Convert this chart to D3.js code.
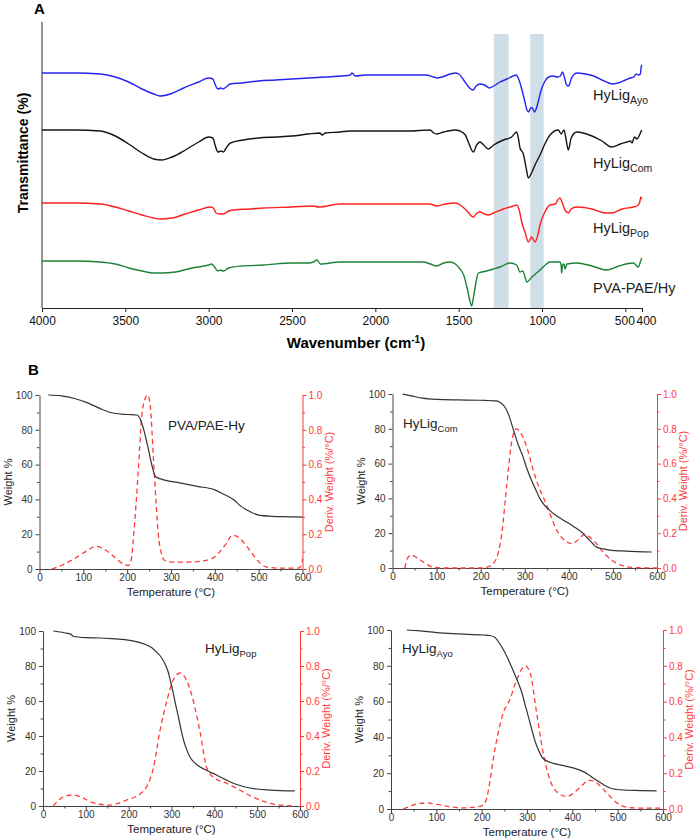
<!DOCTYPE html>
<html>
<head>
<meta charset="utf-8">
<script src="https://cdn.jsdelivr.net/npm/d3@7"></script>
<style>
  body { margin: 0; background: #fff; }
  text { font-family: "Liberation Sans", Arial, sans-serif; }
</style>
</head>
<body>
<div class="chart"></div>
<script>
const WIDTH = 700;
const HEIGHT = 840;

// ---------- panel A : FTIR (wavenumber, shift from each trace's own baseline)
const ftirTicks = [4000, 3500, 3000, 2500, 2000, 1500, 1000, 500, 400];
const ftirBands = [[1290, 1200], [1070, 990]];
const ftirOffsets = [235, 178, 105, 47];

const ayo = [[4000,0],[3800,0],[3650,-1],[3560,-4],[3480,-9],[3400,-16],[3330,-21],[3292,-23],[3230,-21],[3150,-15],[3060,-9],[3000,-5],[2975,-6],[2960,-12],[2945,-16],[2925,-15],[2914,-16],[2895,-14],[2870,-11],[2800,-10],[2700,-8],[2600,-7],[2500,-6],[2400,-5],[2300,-4],[2200,-3],[2150,-2],[2140,0],[2120,-3],[2060,-2],[2000,-2],[1800,-2],[1700,-2],[1650,-4],[1630,-5],[1600,-4],[1550,-1],[1520,0],[1500,-1],[1470,-7],[1440,-14],[1414,-17],[1395,-13],[1372,-11],[1345,-12],[1315,-15],[1290,-13],[1252,-9],[1210,-6],[1174,-3],[1155,-2],[1140,-6],[1125,-14],[1105,-27],[1090,-37],[1080,-39],[1068,-35],[1058,-35],[1045,-39],[1035,-36],[1020,-27],[1005,-17],[985,-9],[960,-4],[935,-3],[905,-4],[890,-3],[876,1],[866,-4],[852,-12],[840,-13],[825,-6],[805,-1],[790,0],[740,-1],[690,-3],[640,-7],[600,-10],[575,-11],[545,-10],[500,-7],[470,-5],[450,-4],[435,-1],[420,-2],[410,-1],[405,6],[400,8]];
const com = [[4000,0],[3800,0],[3650,-1],[3560,-6],[3480,-14],[3400,-23],[3330,-29],[3282,-30],[3220,-27],[3140,-20],[3060,-12],[3000,-7],[2975,-8],[2960,-16],[2945,-22],[2925,-21],[2912,-22],[2895,-18],[2870,-13],[2792,-10],[2700,-8],[2600,-7],[2500,-6],[2400,-4],[2332,-3],[2320,-5],[2300,-3],[2212,-2],[2150,-1],[2000,-1],[1800,-1],[1672,0],[1650,-3],[1632,-4],[1590,-2],[1522,0],[1492,-1],[1460,-5],[1442,-12],[1412,-22],[1392,-15],[1372,-12],[1350,-15],[1322,-19],[1290,-15],[1232,-10],[1182,-7],[1152,-2],[1140,-10],[1132,-18],[1112,-24],[1095,-38],[1082,-48],[1060,-42],[1042,-35],[1012,-25],[980,-13],[952,-5],[902,0],[885,-4],[868,0],[855,-10],[842,-20],[825,-8],[792,-2],[700,-6],[640,-11],[582,-17],[530,-14],[490,-12],[470,-11],[460,-13],[445,-7],[430,-9],[415,-5],[402,0]];
const pop = [[4000,0],[3800,0],[3650,-1],[3560,-4],[3480,-8],[3400,-12],[3330,-15],[3292,-16],[3220,-15],[3140,-11],[3060,-7],[2992,-4],[2972,-5],[2955,-10],[2935,-11],[2912,-11],[2880,-8],[2850,-7],[2750,-6],[2672,-5],[2500,-4],[2372,-3],[2340,-4],[2212,-1],[2000,-1],[1800,-1],[1672,-1],[1632,-3],[1580,-1],[1522,0],[1490,-2],[1450,-8],[1412,-14],[1390,-10],[1372,-9],[1345,-11],[1322,-12],[1290,-10],[1232,-6],[1172,-3],[1152,-2],[1135,-8],[1122,-19],[1100,-30],[1082,-39],[1062,-34],[1042,-39],[1025,-32],[1012,-22],[980,-8],[952,-2],[920,-1],[905,3],[892,5],[880,1],[865,-6],[842,-10],[825,-6],[792,-4],[700,-6],[620,-10],[582,-10],[520,-6],[452,-4],[430,-3],[415,0],[406,6],[402,4]];
const pvaPae = [[4000,0],[3800,0],[3650,-1],[3560,-3],[3480,-7],[3400,-10],[3330,-12],[3282,-12],[3200,-11],[3100,-7],[3000,-4],[2982,-3],[2965,-6],[2945,-10],[2930,-9],[2912,-10],[2880,-7],[2800,-5],[2672,-4],[2500,-2],[2400,-2],[2372,-1],[2350,1],[2330,-3],[2212,-1],[2000,-1],[1800,-1],[1712,-1],[1670,-3],[1632,-5],[1590,-2],[1552,-1],[1520,-3],[1492,-8],[1470,-14],[1452,-25],[1435,-38],[1422,-45],[1410,-35],[1400,-25],[1382,-12],[1360,-11],[1332,-10],[1290,-8],[1252,-6],[1192,-2],[1152,-4],[1132,-11],[1116,-10],[1100,-17],[1092,-21],[1060,-16],[1012,-9],[980,-4],[952,-1],[892,-1],[885,-5],[882,-12],[876,-4],[868,-3],[862,-8],[850,-3],[792,-2],[700,-5],[612,-9],[540,-5],[452,-2],[422,-6],[410,-1],[402,3]];

const ftirSeries = [ayo, com, pop, pvaPae];
const ftirColors = ['#2424f2', '#151515', '#ff1e1e', '#1e8236'];
const ftirNames = [['HyLig', 'Ayo'], ['HyLig', 'Com'], ['HyLig', 'Pop'], ['PVA-PAE/Hy', '']];

// ---------- panel B : TGA (temperature, weight %) and DTG (temperature, %/°C)
const tgaTicks = [0, 100, 200, 300, 400, 500, 600];
const weightTicks = [0, 20, 40, 60, 80, 100];
const derivTicks = [0, 0.2, 0.4, 0.6, 0.8, 1.0];

const pvaW = [[20,100],[50,99.5],[80,98],[110,95.5],[140,92],[170,89.5],[200,88.8],[222,88.5],[230,86],[240,78],[250,67],[258,58],[265,53],[280,51.5],[320,49.5],[360,47.5],[400,45.5],[420,43],[443,39.8],[460,36],[480,33],[500,31],[530,30.3],[570,30],[600,29.8]];
const pvaD = [[28,0],[50,0.02],[80,0.06],[105,0.1],[129,0.13],[150,0.11],[170,0.07],[190,0.03],[203,0.02],[209,0.05],[215,0.2],[225,0.55],[233,0.87],[241,0.98],[247,1.0],[253,0.93],[260,0.63],[266,0.38],[271,0.2],[278,0.09],[285,0.05],[300,0.04],[340,0.04],[380,0.05],[400,0.07],[415,0.11],[427,0.15],[440,0.195],[455,0.18],[473,0.13],[485,0.09],[497,0.05],[510,0.02],[520,0.01],[550,0.005],[590,0.005],[597,0.02],[600,0.06]];
const comW = [[23,100],[45,98.8],[68,97.6],[100,96.9],[150,96.6],[200,96.4],[236,96],[245,95],[255,92.5],[265,87],[273,80.5],[285,71],[296,64],[305,57],[315,50.6],[325,45],[334,40],[345,36],[357,33],[372,30],[387,27.6],[410,24],[432,20],[445,16.5],[455,13.8],[463,12],[478,11],[493,10.3],[530,9.7],[588,9.2]];
const comD = [[28,0],[33,0.05],[42,0.075],[55,0.06],[72,0.03],[92,0.005],[120,0],[200,0],[220,0.01],[230,0.03],[238,0.07],[248,0.2],[259,0.47],[270,0.72],[281,0.8],[292,0.77],[304,0.7],[315,0.6],[327,0.5],[350,0.36],[372,0.22],[395,0.15],[407,0.14],[420,0.16],[437,0.195],[450,0.17],[463,0.14],[475,0.1],[486,0.07],[500,0.04],[520,0.015],[545,0.003],[600,0]];
const popW = [[24,100],[50,99],[65,98.2],[70,97],[100,96.2],[133,96],[160,95.6],[195,94.9],[220,93.8],[242,92],[255,90.3],[265,88],[273,86],[281,83],[287,80],[293,76],[298,71],[304,64.6],[310,57.5],[316,51],[322,44],[328,37.7],[335,32.5],[343,28],[355,24.5],[367,22.3],[385,20],[405,17.7],[425,15.2],[444,13],[470,11],[499,9.7],[530,9.1],[588,8.6]];
const popD = [[24,0],[35,0.03],[50,0.055],[70,0.063],[90,0.05],[110,0.025],[133,0.01],[156,0.005],[175,0.015],[195,0.034],[227,0.07],[242,0.11],[258,0.22],[273,0.43],[289,0.6],[304,0.72],[320,0.76],[335,0.72],[351,0.6],[367,0.42],[382,0.22],[397,0.166],[429,0.13],[460,0.09],[491,0.05],[522,0.02],[553,0.005],[590,0]];
const ayoW = [[35,100],[60,99.6],[101,98.5],[152,97.8],[203,97.2],[220,96.8],[229,96],[238,93],[247,89.4],[258,84],[269,77.6],[279,71.5],[289,64.8],[296,58],[303,51.6],[311,44],[318,37.7],[326,32.5],[333,29],[345,26.7],[358,25.5],[375,24.5],[395,23.4],[410,22.3],[424,20.9],[435,19.3],[446,17.3],[465,14.2],[483,11.7],[498,10.9],[512,10.6],[550,10.3],[586,10.1]];
const ayoD = [[27,0],[45,0.018],[60,0.03],[79,0.034],[100,0.027],[131,0.012],[160,0.006],[185,0.01],[203,0.022],[210,0.05],[218,0.15],[225,0.27],[236,0.42],[248,0.54],[262,0.61],[277,0.72],[288,0.78],[296,0.8],[307,0.76],[321,0.54],[336,0.31],[351,0.16],[366,0.095],[388,0.07],[410,0.105],[425,0.14],[435,0.16],[445,0.158],[454,0.145],[476,0.09],[498,0.035],[527,0.007],[555,0.005],[600,0.005]];

const svg = d3.select('.chart').append('svg')
    .attr('width', WIDTH)
    .attr('height', HEIGHT);

// =============== panel A
const xA = d3.scaleLinear().domain([4000, 400]).range([42, 642]);
const yA = d3.scaleLinear().domain([0, 285]).range([308, 23]);

svg.append('text').attr('x', 34).attr('y', 14)
    .attr('font-size', 15).attr('font-weight', 'bold').text('A');

svg.selectAll('rect.band').data(ftirBands).enter().append('rect')
    .attr('class', 'band')
    .attr('x', d => xA(d[0]))
    .attr('width', d => xA(d[1]) - xA(d[0]))
    .attr('y', 34)
    .attr('height', 308 - 34)
    .attr('fill', '#d0dee8');

svg.append('line').attr('x1', 42).attr('x2', 42).attr('y1', 22).attr('y2', 308)
    .attr('stroke', '#222').attr('stroke-width', 1);

const xAxisA = svg.append('g').attr('transform', 'translate(0,308)')
    .call(d3.axisBottom(xA).tickValues(ftirTicks).tickSize(4).tickSizeOuter(0).tickPadding(4).tickFormat(d3.format('d')));
xAxisA.select('.domain').attr('stroke', '#222');
xAxisA.selectAll('line').attr('stroke', '#222');
xAxisA.selectAll('text').attr('font-size', 12).attr('fill', '#111');
// 500 and 400 sit close together: push them apart
xAxisA.selectAll('.tick text')
    .filter(d => d === 500).attr('text-anchor', 'end').attr('x', 9);
xAxisA.selectAll('.tick text')
    .filter(d => d === 400).attr('text-anchor', 'start').attr('x', -6);

svg.append('text').attr('x', 356).attr('y', 348).attr('text-anchor', 'middle')
    .attr('font-size', 15).attr('font-weight', 'bold')
    .call(t => {
        t.append('tspan').text('Wavenumber (cm');
        t.append('tspan').attr('font-size', 10).attr('dy', -5).text('-1');
        t.append('tspan').attr('dy', 5).text(')');
    });

svg.append('text').attr('transform', 'translate(28,153) rotate(-90)')
    .attr('text-anchor', 'middle').attr('font-size', 14).attr('font-weight', 'bold')
    .text('Transmittance (%)');

const lineA = (off) => d3.line()
    .x(d => xA(d[0]))
    .y(d => yA(off + d[1]))
    .curve(d3.curveMonotoneX);

ftirSeries.forEach((s, i) => {
    svg.append('path').datum(s)
        .attr('d', lineA(ftirOffsets[i]))
        .attr('fill', 'none')
        .attr('stroke', ftirColors[i])
        .attr('stroke-width', 1.4);
});

const labelYA = [100, 168, 233, 293];
ftirNames.forEach((n, i) => {
    const t = svg.append('text').attr('x', 593).attr('y', labelYA[i]).attr('font-size', 14.5).attr('fill', '#222');
    t.append('tspan').text(n[0]);
    if (n[1]) t.append('tspan').attr('font-size', 10.5).attr('dy', 4).text(n[1]);
});

// =============== panel B
svg.append('text').attr('x', 28).attr('y', 375)
    .attr('font-size', 15).attr('font-weight', 'bold').text('B');

const tgaPanels = [
    {w: pvaW, d: pvaD, name: ['PVA/PAE-Hy', ''], lab: [168, 430], l: 39.5, r: 302.5, t: 395, b: 569},
    {w: comW, d: comD, name: ['HyLig', 'Com'], lab: [403, 428], l: 392.5, r: 657, t: 394, b: 568},
    {w: popW, d: popD, name: ['HyLig', 'Pop'], lab: [205, 653], l: 43, r: 300, t: 631, b: 806},
    {w: ayoW, d: ayoD, name: ['HyLig', 'Ayo'], lab: [402, 653], l: 391, r: 663, t: 630, b: 809}
];

const RED = '#ff3b3b';
const GREY = '#444';

function styleAxis(g, col) {
    g.select('.domain').attr('stroke', col);
    g.selectAll('line').attr('stroke', col);
    g.selectAll('text').attr('font-size', 10).attr('fill', col === RED ? RED : '#333');
}

tgaPanels.forEach(p => {
    const x = d3.scaleLinear().domain([0, 600]).range([p.l, p.r]);
    const yW = d3.scaleLinear().domain([0, 100]).range([p.b, p.t]);
    const yD = d3.scaleLinear().domain([0, 1]).range([p.b, p.t]);
    const g = svg.append('g');

    // minor ticks
    g.append('g').attr('transform', `translate(0,${p.b})`)
        .call(d3.axisBottom(x).tickValues(d3.range(50, 600, 100)).tickSize(2.5).tickFormat(''))
        .call(a => { a.select('.domain').remove(); a.selectAll('line').attr('stroke', GREY); });
    g.append('g').attr('transform', `translate(${p.l},0)`)
        .call(d3.axisLeft(yW).tickValues(d3.range(10, 100, 20)).tickSize(2.5).tickFormat(''))
        .call(a => { a.select('.domain').remove(); a.selectAll('line').attr('stroke', GREY); });
    g.append('g').attr('transform', `translate(${p.r},0)`)
        .call(d3.axisRight(yD).tickValues(d3.range(0.1, 1, 0.2)).tickSize(2.5).tickFormat(''))
        .call(a => { a.select('.domain').remove(); a.selectAll('line').attr('stroke', RED); });

    // major axes
    g.append('g').attr('transform', `translate(0,${p.b})`)
        .call(d3.axisBottom(x).tickValues(tgaTicks).tickSize(4).tickSizeOuter(0).tickPadding(1))
        .call(a => styleAxis(a, GREY));
    g.append('g').attr('transform', `translate(${p.l},0)`)
        .call(d3.axisLeft(yW).tickValues(weightTicks).tickSize(4).tickSizeOuter(0).tickPadding(3))
        .call(a => styleAxis(a, GREY));
    g.append('g').attr('transform', `translate(${p.r},0)`)
        .call(d3.axisRight(yD).tickValues(derivTicks).tickSize(4).tickSizeOuter(0).tickPadding(2).tickFormat(d3.format('.1f')))
        .call(a => styleAxis(a, RED));

    // axis titles
    g.append('text').attr('x', (p.l + p.r) / 2).attr('y', p.b + 27).attr('text-anchor', 'middle')
        .attr('font-size', 11.5).attr('fill', '#222').text('Temperature (°C)');
    g.append('text').attr('transform', `translate(${p.l - 28},${(p.t + p.b) / 2}) rotate(-90)`)
        .attr('text-anchor', 'middle').attr('font-size', 11).attr('fill', '#222').text('Weight %');
    g.append('text').attr('transform', `translate(${p.r + 30},${(p.t + p.b) / 2}) rotate(-90)`)
        .attr('text-anchor', 'middle').attr('font-size', 11).attr('fill', RED).text('Deriv. Weight (%/°C)');

    // curves
    g.append('path').datum(p.d)
        .attr('d', d3.line().x(d => x(d[0])).y(d => yD(d[1])).curve(d3.curveMonotoneX))
        .attr('fill', 'none').attr('stroke', RED).attr('stroke-width', 1.3)
        .attr('stroke-dasharray', '5,3.5');
    g.append('path').datum(p.w)
        .attr('d', d3.line().x(d => x(d[0])).y(d => yW(d[1])).curve(d3.curveMonotoneX))
        .attr('fill', 'none').attr('stroke', '#333').attr('stroke-width', 1.2);

    const t = g.append('text').attr('x', p.lab[0]).attr('y', p.lab[1]).attr('font-size', 13.5).attr('fill', '#222');
    t.append('tspan').text(p.name[0]);
    if (p.name[1]) t.append('tspan').attr('font-size', 9.5).attr('dy', 3.5).text(p.name[1]);
});
</script>
</body>
</html>
